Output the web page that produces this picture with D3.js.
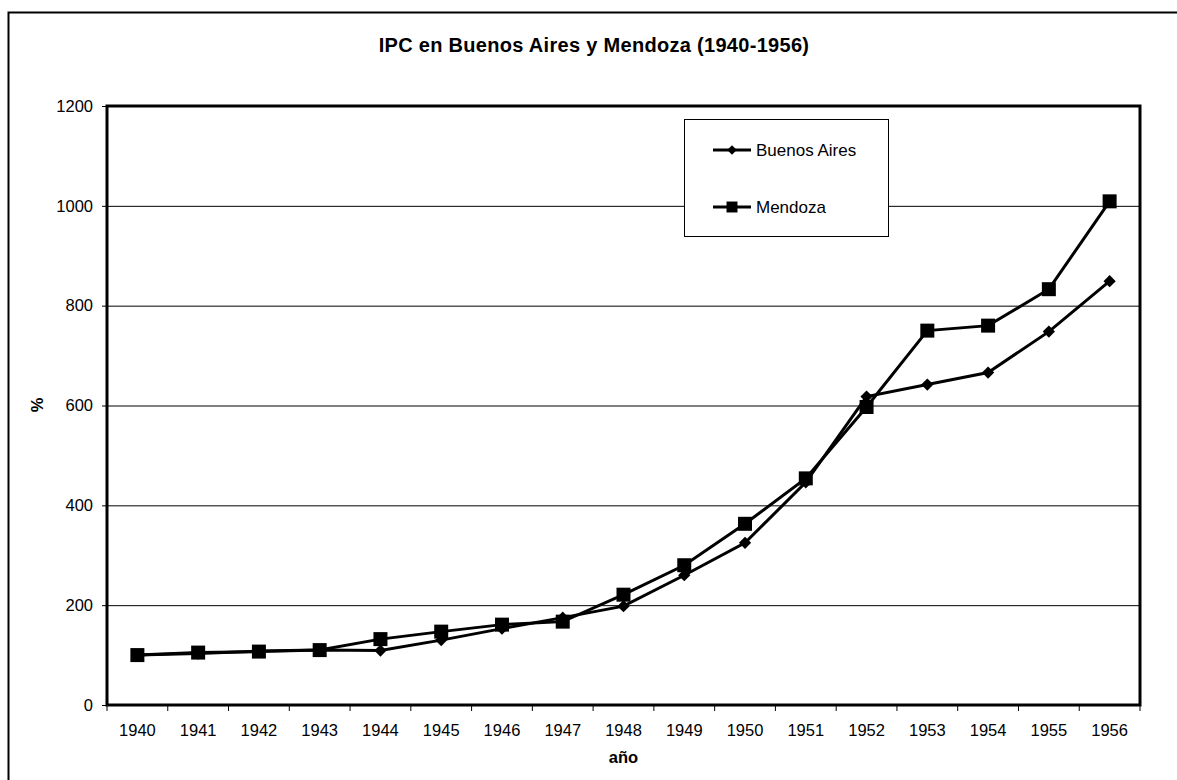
<!DOCTYPE html>
<html>
<head>
<meta charset="utf-8">
<script src="https://cdn.jsdelivr.net/npm/d3@7"></script>
<style>
  body { margin: 0; background: #fff; }
  svg { font-family: "Liberation Sans", Arial, sans-serif; }
</style>
</head>
<body>
<svg id="chart" width="1177" height="780"></svg>
<script>
// data
var years = ['1940','1941','1942','1943','1944','1945','1946','1947','1948',
             '1949','1950','1951','1952','1953','1954','1955','1956'];
var buenosAires = [100, 103, 108, 110, 109, 130, 153, 175, 198, 260, 325, 446, 618, 642, 666, 748, 849];
var mendoza = [100, 105, 107, 110, 132, 147, 161, 167, 221, 280, 363, 454, 597, 750, 760, 833, 1009];
var yTicks = [0, 200, 400, 600, 800, 1000, 1200];

var svg = d3.select('#chart');
var plot = {left: 107, right: 1140, top: 106, bottom: 705};
var font = '"Liberation Sans", Arial, sans-serif';

// outer frame
svg.append('rect')
  .attr('x', 8.5).attr('y', 12.5)
  .attr('width', 1200).attr('height', 800)
  .attr('fill', 'none').attr('stroke', '#000').attr('stroke-width', 2);

var x = d3.scaleBand().domain(years).range([plot.left, plot.right]);
var y = d3.scaleLinear().domain([0, 1200]).range([plot.bottom, plot.top]);

// gridlines
svg.append('g')
  .selectAll('line')
  .data(yTicks.slice(1, -1))
  .join('line')
    .attr('x1', plot.left).attr('x2', plot.right)
    .attr('y1', d => y(d) + 0.5).attr('y2', d => y(d) + 0.5)
    .attr('stroke', '#000').attr('stroke-width', 1);

// y axis
var yAxis = svg.append('g')
  .attr('transform', 'translate(' + plot.left + ',0)')
  .call(d3.axisLeft(y).tickValues(yTicks).tickFormat(d3.format('d')).tickSize(5).tickPadding(9));
yAxis.select('.domain').remove();
yAxis.selectAll('text').attr('font-size', 16.5).attr('fill', '#000').attr('font-family', font);

// x axis
var xAxis = svg.append('g')
  .attr('transform', 'translate(0,' + plot.bottom + ')')
  .call(d3.axisBottom(x).tickSize(0).tickPadding(19));
xAxis.select('.domain').remove();
xAxis.selectAll('text').attr('font-size', 16.5).attr('fill', '#000').attr('font-family', font);
svg.append('g')
  .selectAll('line')
  .data(years.concat(['end']))
  .join('line')
    .attr('x1', (d, i) => plot.left + i * x.bandwidth())
    .attr('x2', (d, i) => plot.left + i * x.bandwidth())
    .attr('y1', plot.bottom).attr('y2', plot.bottom + 6)
    .attr('stroke', '#000');

// plot border
svg.append('rect')
  .attr('x', plot.left).attr('y', plot.top)
  .attr('width', plot.right - plot.left).attr('height', plot.bottom - plot.top)
  .attr('fill', 'none').attr('stroke', '#000').attr('stroke-width', 3);

var line = d3.line()
  .x((d, i) => x(years[i]) + x.bandwidth() / 2)
  .y(d => y(d));

function drawSeries(values, size, diamond) {
  svg.append('path')
    .datum(values)
    .attr('d', line)
    .attr('fill', 'none').attr('stroke', '#000').attr('stroke-width', 3);
  svg.append('g')
    .selectAll('path')
    .data(values)
    .join('path')
      .attr('d', d3.symbol().type(d3.symbolSquare).size(size))
      .attr('transform', (d, i) => 'translate(' + (x(years[i]) + x.bandwidth() / 2) + ',' + y(d) + ')' +
            (diamond ? ' rotate(45)' : ''))
      .attr('fill', '#000');
}
drawSeries(buenosAires, 75, true);
drawSeries(mendoza, 196, false);

// title
svg.append('text')
  .attr('x', 594).attr('y', 52)
  .attr('text-anchor', 'middle')
  .attr('font-size', 20).attr('font-weight', 'bold').attr('letter-spacing', 0.3)
  .text('IPC en Buenos Aires y Mendoza (1940-1956)');

// axis titles
svg.append('text')
  .attr('transform', 'translate(43,405) rotate(-90)')
  .attr('text-anchor', 'middle')
  .attr('font-size', 16.5).attr('font-weight', 'bold')
  .text('%');
svg.append('text')
  .attr('x', (plot.left + plot.right) / 2).attr('y', 763)
  .attr('text-anchor', 'middle')
  .attr('font-size', 16.5).attr('font-weight', 'bold')
  .text('año');

// legend
var legend = svg.append('g');
legend.append('rect')
  .attr('x', 684.5).attr('y', 119.5).attr('width', 204).attr('height', 117)
  .attr('fill', '#fff').attr('stroke', '#000').attr('stroke-width', 1);
var legendItems = [
  {name: 'Buenos Aires', y: 150, size: 45, rot: true},
  {name: 'Mendoza', y: 207, size: 120, rot: false}
];
legendItems.forEach(function(it) {
  legend.append('line')
    .attr('x1', 713).attr('x2', 751).attr('y1', it.y).attr('y2', it.y)
    .attr('stroke', '#000').attr('stroke-width', 3);
  legend.append('path')
    .attr('d', d3.symbol().type(d3.symbolSquare).size(it.size))
    .attr('transform', 'translate(732,' + it.y + ')' + (it.rot ? ' rotate(45)' : ''))
    .attr('fill', '#000');
  legend.append('text')
    .attr('x', 756).attr('y', it.y + 6)
    .attr('font-size', 17)
    .text(it.name);
});
</script>
</body>
</html>
